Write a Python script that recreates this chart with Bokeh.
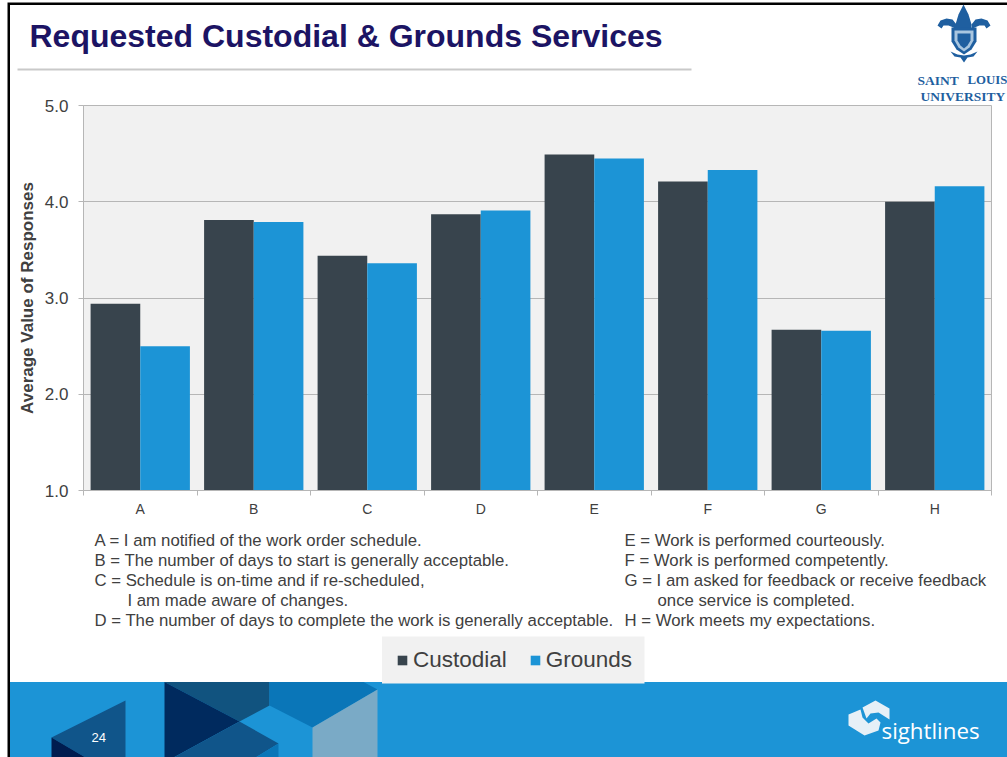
from bokeh.plotting import figure
from bokeh.core.properties import value
from bokeh.models import (FixedTicker, Legend, LegendItem, Range1d, Title)
from bokeh.embed import file_html
from bokeh.resources import INLINE

# ---- data ----
categories = ["A", "B", "C", "D", "E", "F", "G", "H"]
custodial = [2.94, 3.81, 3.44, 3.87, 4.49, 4.21, 2.67, 4.00]
grounds = [2.50, 3.79, 3.36, 3.91, 4.45, 4.33, 2.66, 4.16]
y_ticks = [1, 2, 3, 4, 5]
notes_left = [
    "A = I am notified of the work order schedule.",
    "B = The number of days to start is generally acceptable.",
    "C = Schedule is on-time and if re-scheduled,",
    "I am made aware of changes.",
    "D = The number of days to complete the work is generally acceptable.",
]
notes_right = [
    "E = Work is performed courteously.",
    "F = Work is performed competently.",
    "G = I am asked for feedback or receive feedback",
    "once service is completed.",
    "H = Work meets my expectations.",
]

DARK, BLUE, PANEL, GRID, TXT = "#38444d", "#1c94d6", "#f1f1f1", "#b6b6b6", "#404040"
W, H = 1007, 757
FL, FR, FT, FB = 83, 991, 105, 490
SANS = "Liberation Sans"
PIN = {"position": "absolute", "left": "0px", "top": "0px"}

# ---- slide backdrop: a full-page figure in page pixels ----
bg = figure(width=W, height=H, output_backend="svg", toolbar_location=None,
            x_range=Range1d(0, W), y_range=Range1d(H, 0),
            min_border=0, outline_line_color=None, background_fill_color="white",
            border_fill_color="white")
bg.axis.visible = False
bg.grid.visible = False
bg.styles = PIN

def poly(pts, color):
    bg.patch([a for a, _ in pts], [b for _, b in pts], fill_color=color, line_color=None)

def label(x, y, text, size, color=TXT, style="normal", font=SANS):
    bg.text(x=[x], y=[y], text=[text], text_font=value(font), text_font_size=f"{size}px",
            text_color=color, text_font_style=style, text_baseline="middle")

poly([(7, 2), (W, 2), (W, 4.5), (9.5, 4.5), (9.5, H), (7, H)], "#000000")
poly([(17, 68), (691, 68), (691, 70), (17, 70)], "#c9c9c9")
poly([(9.5, 681.5), (W, 681.5), (W, H), (9.5, H)], BLUE)
poly([(51, 737), (125, 700), (125, H), (85, H)], "#10558a")
poly([(51, 737), (85, H), (51, H)], "#001c4f")
poly([(164, 681.5), (269, 681.5), (269, 705), (239, 721)], "#11537f")
poly([(164, 681.5), (239, 721), (173, H), (164, H)], "#002a5e")
poly([(239, 721), (278, 743), (255, H), (173, H)], "#10558a")
poly([(278, 743), (278, H), (255, H)], "#0a76b8")
poly([(269, 681.5), (363, 681.5), (377, 689), (312, 727), (269, 705)], "#0a76b8")
poly([(312, 727), (377, 689), (377, H), (312, H)], "#7aaac6")
label(91, 737, "24", 13, "#ffffff")

# university crest
CREST = "#1f5fa0"
PALE = "#a9c6e0"
poly([(963, 4), (968, 14), (971, 24), (970, 31), (956, 31), (955, 24), (958, 14)], CREST)
poly([(937, 25), (940, 20), (946, 18), (952, 19), (956, 24), (956, 32), (953, 27), (948, 25), (943, 25), (941, 28)], CREST)
poly([(990, 25), (987, 20), (981, 18), (975, 19), (971, 24), (971, 32), (974, 27), (979, 25), (984, 25), (986, 28)], CREST)
poly([(951, 27), (976, 27), (976, 41), (971, 49), (963.5, 54), (956, 49), (951, 41)], CREST)
poly([(954, 30), (973, 30), (973, 40), (969, 47), (963.5, 51), (958, 47), (954, 40)], PALE)
poly([(957, 33), (970, 33), (970, 40), (967, 45), (963.5, 48), (960, 45), (957, 40)], CREST)
poly([(950, 51), (957, 54), (963.5, 55), (970, 54), (977, 51), (973, 56), (967, 57), (963.5, 62), (960, 57), (954, 56)], CREST)
label(917, 79.5, "SAINT", 13.5, CREST, "bold", "Liberation Serif")
label(967, 79.5, "LOUIS", 12.8, CREST, "bold", "Liberation Serif")
label(920, 96, "UNIVERSITY", 13.5, CREST, "bold", "Liberation Serif")

# sightlines mark
MARK = "#e6f0f7"
poly([(862, 707), (875, 700), (889, 708), (889, 719), (878, 712), (870, 713), (866, 718)], MARK)
poly([(848, 714), (860, 709), (862, 717), (868, 723), (876, 718), (880, 722), (878, 730), (864, 735), (848, 725)], MARK)
label(881, 730, "sightlines", 22.3, "#ffffff", "normal", "Open Sans")

# explanatory notes
LINE_Y = [540, 560, 580, 600, 620]
for i, (t, y) in enumerate(zip(notes_left, LINE_Y)):
    label(127 if i == 3 else 94, y, t, 16.75)
for i, (t, y) in enumerate(zip(notes_right, LINE_Y)):
    label(657 if i == 3 else 624, y, t, 16.75)

# legend panel and legend, anchored in page pixels on the backdrop
poly([(381.5, 636), (644, 636), (644, 683), (381.5, 683)], PANEL)
s1 = bg.vbar(x=[-50], top=[-50], width=1, fill_color=DARK, line_color=None)
s2 = bg.vbar(x=[-50], top=[-50], width=1, fill_color=BLUE, line_color=None)
legend = Legend(items=[LegendItem(label="Custodial", renderers=[s1]), LegendItem(label="Grounds", renderers=[s2])],
                location=(396, H - 673), orientation="horizontal",
                background_fill_alpha=0, border_line_color=None,
                label_text_font=SANS, label_text_font_size="22.5px", label_text_color=TXT,
                glyph_width=12, glyph_height=12, label_standoff=5, spacing=22, padding=0, margin=0)
bg.add_layout(legend, "center")

# ---- chart ----
p = figure(width=W, height=H, output_backend="svg", toolbar_location=None,
           x_range=Range1d(0, len(categories)), y_range=Range1d(1, 5),
           min_border_left=FL, min_border_right=W - FR, min_border_top=FT, min_border_bottom=H - FB,
           background_fill_color=PANEL, border_fill_color="white", border_fill_alpha=0,
           outline_line_color=GRID, outline_line_width=1)
p.styles = PIN

bar_w = 0.4375
centers = [i + 0.5 for i in range(len(categories))]
p.vbar(x=[c - bar_w / 2 for c in centers], top=custodial, bottom=1, width=bar_w,
       fill_color=DARK, line_color=None)
p.vbar(x=[c + bar_w / 2 for c in centers], top=grounds, bottom=1, width=bar_w,
       fill_color=BLUE, line_color=None)

p.xgrid.visible = False
p.ygrid.ticker = FixedTicker(ticks=y_ticks)
p.ygrid.grid_line_color = GRID
p.ygrid.grid_line_width = 1

xa = p.xaxis[0]
xa.ticker = FixedTicker(ticks=centers, minor_ticks=list(range(len(categories) + 1)))
xa.major_label_overrides = {c: n for c, n in zip(centers, categories)}
xa.major_tick_line_color = None
xa.minor_tick_line_color = GRID
xa.minor_tick_out = 5
xa.minor_tick_in = 0
xa.axis_line_color = GRID
xa.major_label_text_font = SANS
xa.major_label_text_font_size = "14px"
xa.major_label_text_color = TXT
xa.major_label_standoff = 4

ya = p.yaxis[0]
ya.ticker = FixedTicker(ticks=y_ticks)
ya.major_label_overrides = {v: f"{v:.1f}" for v in y_ticks}
ya.major_tick_line_color = GRID
ya.major_tick_out = 5
ya.major_tick_in = 0
ya.minor_tick_line_color = None
ya.axis_line_color = GRID
ya.major_label_text_font = SANS
ya.major_label_text_font_size = "17px"
ya.major_label_text_color = TXT
ya.major_label_standoff = 10
ya.axis_label = "Average Value of Responses"
ya.axis_label_text_font = SANS
ya.axis_label_text_font_size = "17px"
ya.axis_label_text_font_style = "bold"
ya.axis_label_text_color = TXT
ya.axis_label_standoff = 5

p.title = Title(text="Requested Custodial & Grounds Services", text_font=SANS, text_font_size="32px",
                text_font_style="bold", text_color="#1c1464", align="left", offset=-54, standoff=10)
p.add_layout(Title(text=" ", text_font_size="31px"), "above")

open("out.html", "w").write(file_html([bg, p], INLINE))
